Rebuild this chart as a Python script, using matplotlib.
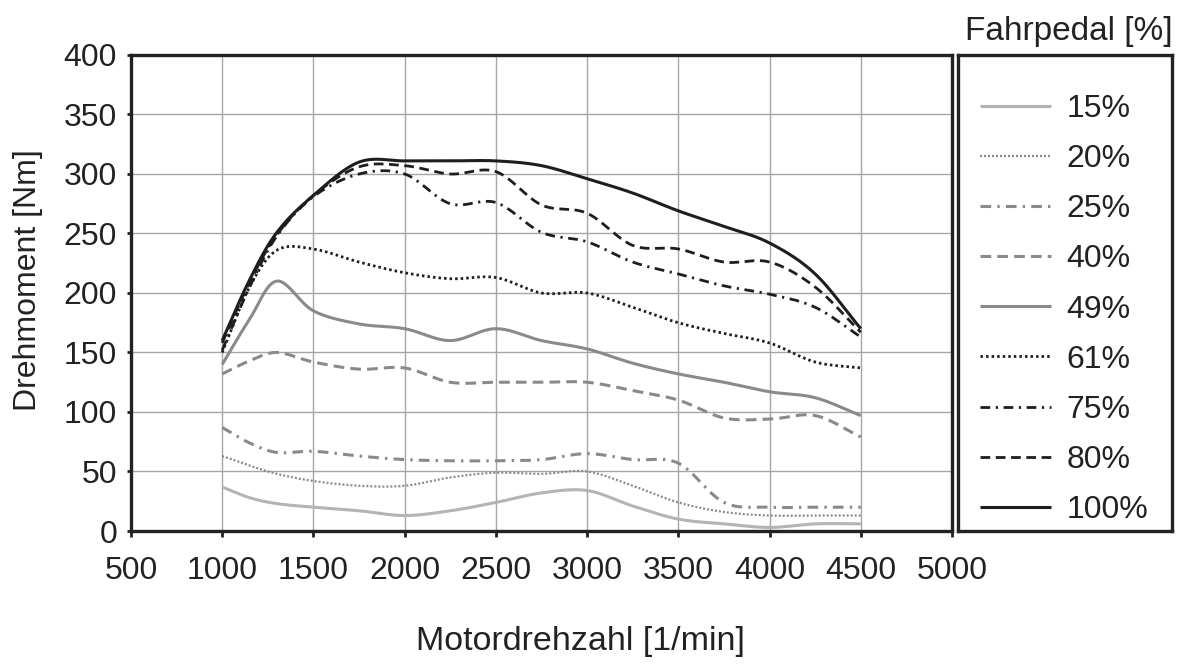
import numpy as np
import matplotlib
matplotlib.use('Agg')
import matplotlib.pyplot as plt
from matplotlib.lines import Line2D

plt.rcParams['font.family'] = ['Liberation Sans', 'DejaVu Sans']

# engine speed grid [1/min]
rpm = [1000, 1150, 1300, 1500, 1750, 2000, 2250, 2500, 2750,
       3000, 3250, 3500, 3750, 4000, 4250, 4500]

# torque [Nm] per accelerator pedal position
tq_15 = [37, 28, 23, 20, 17, 13, 17, 24, 32, 34, 21, 10, 6, 3, 6, 6]
tq_20 = [63, 55, 48, 42, 38, 38, 45, 49, 48, 50, 38, 24, 16, 13, 13, 13]
tq_25 = [87, 74, 66, 67, 63, 60, 59, 59, 60, 65, 60, 57, 24, 20, 20, 20]
tq_40 = [132, 143, 150, 142, 136, 137, 125, 125, 125, 125, 118, 110, 95, 94, 97, 79]
tq_49 = [140, 178, 210, 185, 174, 170, 160, 170, 160, 153, 141, 132, 125, 117, 112, 97]
tq_61 = [150, 205, 236, 237, 226, 217, 212, 213, 200, 200, 188, 175, 166, 158, 142, 137]
tq_75 = [152, 205, 248, 281, 300, 300, 275, 276, 251, 243, 226, 216, 206, 199, 188, 163]
tq_80 = [158, 209, 249, 282, 306, 307, 300, 302, 274, 267, 240, 237, 226, 226, 205, 167]
tq_100 = [160, 211, 251, 282, 310, 311, 311, 311, 307, 296, 284, 269, 256, 242, 216, 170]

pedal_labels = ['15%', '20%', '25%', '40%', '49%', '61%', '75%', '80%', '100%']

LIGHT = '#b4b4b4'
MID = '#8a8a8a'
DARK = '#1e1e1e'

# (series, colour, linewidth, dash pattern or None for solid)
styles = [
    (tq_15, LIGHT, 2.2, None),
    (tq_20, MID, 1.6, (0.9, 0.9)),
    (tq_25, MID, 2.2, (3.5, 2.0, 0.8, 2.0)),
    (tq_40, MID, 2.2, (3.5, 2.0)),
    (tq_49, MID, 2.2, None),
    (tq_61, DARK, 2.0, (0.9, 1.1)),
    (tq_75, DARK, 2.0, (3.5, 2.0, 0.8, 2.0)),
    (tq_80, DARK, 2.0, (3.5, 2.0)),
    (tq_100, DARK, 2.2, None),
]


def smooth(x, y, n=24):
    """Catmull-Rom curve through the points (like a smoothed spreadsheet line)."""
    p = np.column_stack([x, y]).astype(float)
    p = np.vstack([2 * p[0] - p[1], p, 2 * p[-1] - p[-2]])
    t = np.linspace(0, 1, n, endpoint=False)[:, None]
    out = []
    for i in range(1, len(p) - 2):
        p0, p1, p2, p3 = p[i - 1], p[i], p[i + 1], p[i + 2]
        seg = 0.5 * ((2 * p1) + (-p0 + p2) * t
                     + (2 * p0 - 5 * p1 + 4 * p2 - p3) * t ** 2
                     + (-p0 + 3 * p1 - 3 * p2 + p3) * t ** 3)
        out.append(seg)
    out.append(p[-2][None, :])
    c = np.vstack(out)
    return c[:, 0], c[:, 1]


fig = plt.figure(figsize=(11.81, 6.64), dpi=100)
ax = fig.add_axes([0.1109, 0.2003, 0.6952, 0.7169])

handles = []
for (vals, col, lw, dash), lab in zip(styles, pedal_labels):
    sx, sy = smooth(rpm, vals)
    kw = dict(color=col, lw=lw, solid_capstyle='butt', dash_capstyle='butt')
    if dash is not None:
        kw['dashes'] = dash
    ax.plot(sx, sy, zorder=3, **kw)
    handles.append(Line2D([], [], label=lab, **kw))

ax.set_xlim(500, 5000)
ax.set_ylim(0, 400)
ax.set_xticks(np.arange(500, 5001, 500))
ax.set_yticks(np.arange(0, 401, 50))
ax.grid(True, color='#a6a6a6', lw=1.0, zorder=1)
ax.set_axisbelow(True)

for s in ax.spines.values():
    s.set_linewidth(2.4)
    s.set_color('#222222')
ax.tick_params(axis='y', direction='out', length=3, width=2, colors='#222222',
               labelsize=23, pad=7)
ax.tick_params(axis='x', direction='out', length=4, width=2, colors='#222222',
               labelsize=23, pad=14)
ax.set_ylabel('Drehmoment [Nm]', fontsize=23, color='#222222')
ax.yaxis.set_label_coords(-0.107, 0.527)
ax.set_xlabel('Motordrehzahl [1/min]', fontsize=24.5, color='#222222')
ax.xaxis.set_label_coords(0.547, -0.2)

# legend in its own framed box to the right
lax = fig.add_axes([0.8112, 0.2003, 0.1812, 0.7169])
lax.set_xticks([])
lax.set_yticks([])
for s in lax.spines.values():
    s.set_linewidth(2.4)
    s.set_color('#222222')
leg = lax.legend(handles=handles, loc='upper left', bbox_to_anchor=(0.0, 0.965),
                 frameon=False, fontsize=23, handlelength=2.2,
                 handletextpad=0.5, labelspacing=0.63, borderpad=0.2)
for t in leg.get_texts():
    t.set_color('#222222')
fig.text(0.9925, 0.953, 'Fahrpedal [%]', ha='right', va='center',
         fontsize=24, color='#222222')

fig.savefig('out.png', dpi=100)
